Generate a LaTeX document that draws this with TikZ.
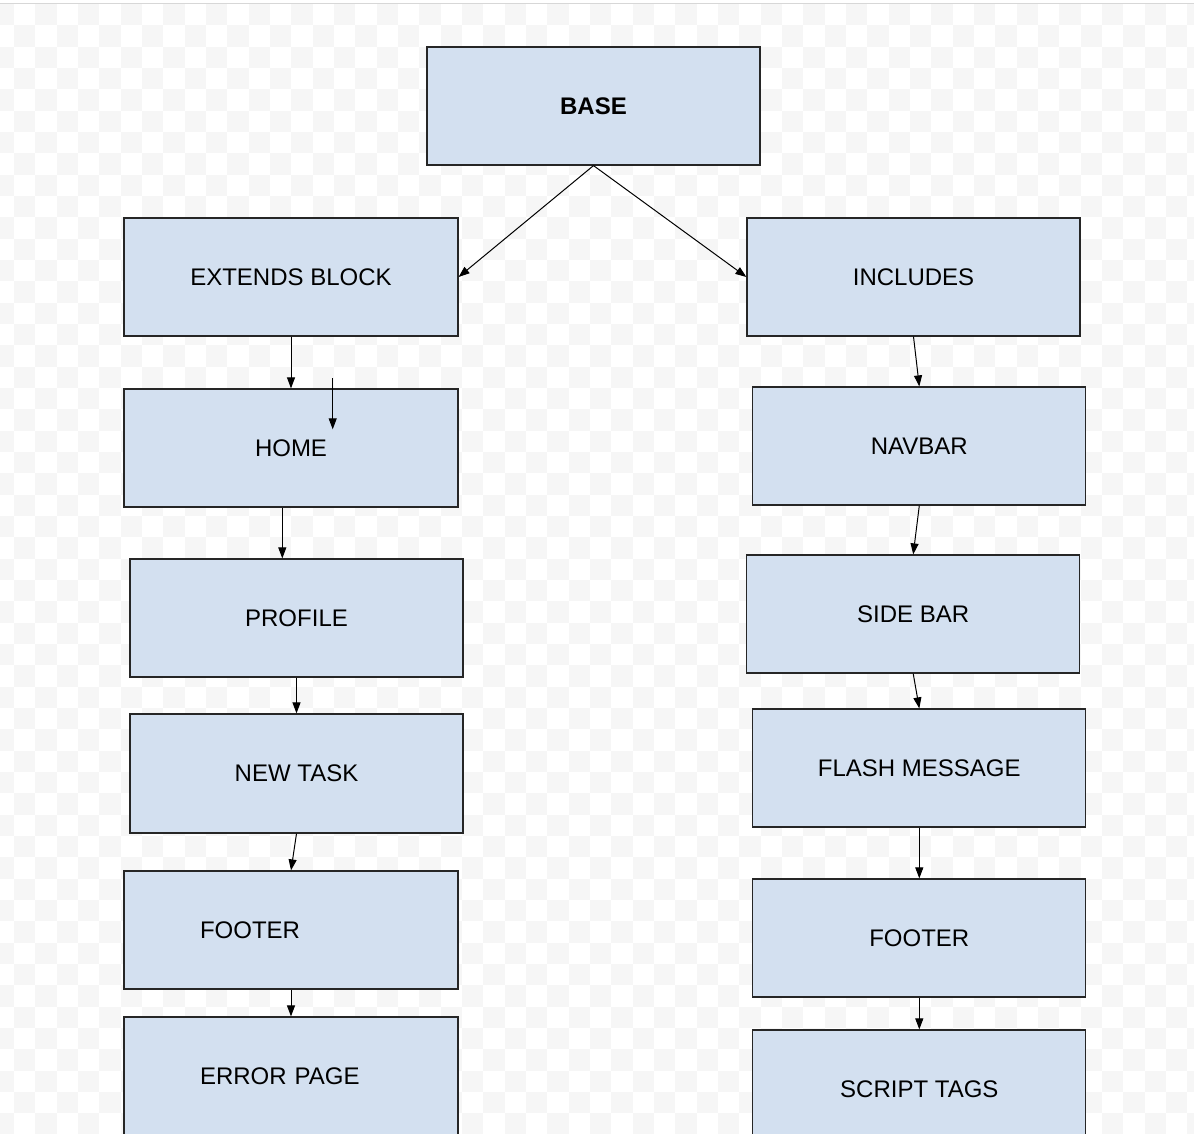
\documentclass[tikz,border=0pt]{standalone}
\usepackage{fontspec}
\setmainfont{Liberation Sans}
\usetikzlibrary{arrows.meta,calc}
\definecolor{boxfill}{RGB}{211,224,240}
\definecolor{checkgray}{RGB}{246,246,246}
\definecolor{topgray}{RGB}{215,215,215}
\tikzset{
  blk/.style={draw=black!85, line width=1.2pt, fill=boxfill, rectangle,
    minimum width=333pt, minimum height=118pt, inner sep=0pt,
    font=\fontsize{24}{28}\selectfont},
  lefttext/.style={text width=182pt, align=left},
  conn/.style={draw=black, line width=1pt, -{Triangle[length=11pt,width=8pt]}},
  checker/.style={fill=checkgray}
}
\begin{document}
\begin{tikzpicture}[x=1pt,y=-1pt]
\useasboundingbox (0,0) rectangle (1194,1134);
\clip (0,0) rectangle (1194,1134);
\fill[white] (0,0) rectangle (1194,1134);
\foreach \r in {0,...,53}{
  \pgfmathsetmacro\yy{4+21.333*\r}
  \pgfmathsetmacro\xo{-7.333+21.333*mod(\r,2)}
  \foreach \c in {0,...,28}{
    \fill[checker] ({\xo+42.667*\c},\yy) rectangle ++(21.333,21.333);
  }
}
\draw[topgray, line width=1.2pt] (0,3.5) -- (1194,3.5);

% left column
\node[blk, font=\fontsize{24}{28}\selectfont\bfseries] (base) at (593.5,106) {BASE};
\node[blk, minimum width=334pt] (ext) at (291,277) {EXTENDS BLOCK};
\node[blk, minimum width=334pt] (home) at (291,448) {HOME};
\node[blk] (prof) at (296.5,618) {PROFILE};
\node[blk, minimum height=119pt] (task) at (296.5,773.5) {NEW TASK};
\node[blk, minimum width=334pt, lefttext] (foot1) at (291,930) {FOOTER};
\node[blk, minimum width=334pt, lefttext] (err) at (291,1076) {ERROR PAGE};

% right column
\node[blk] (inc) at (913.5,277) {INCLUDES};
\node[blk] (nav) at (919.3,446) {NAVBAR};
\node[blk] (side) at (913.2,614) {SIDE BAR};
\node[blk] (flash) at (919.3,768) {FLASH MESSAGE};
\node[blk] (foot2) at (919.3,938) {FOOTER};
\node[blk] (script) at (919.3,1089) {SCRIPT TAGS};

\coordinate (s1) at (332.7,378);
\coordinate (s2) at (332.7,429.3);

% connectors
\draw[conn] (base.south) -- (ext.east);
\draw[conn] (base.south) -- (inc.west);
\draw[conn] (ext.south) -- (home.north);
\draw[conn] (s1) -- (s2);
\draw[conn] ([xshift=-8.7pt]home.south) -- ([xshift=-8.7pt]home.south |- prof.north);
\draw[conn] (prof.south) -- (task.north);
\draw[conn] (task.south) -- (foot1.north);
\draw[conn] (foot1.south) -- (err.north);
\draw[conn] (inc.south) -- (nav.north);
\draw[conn] (nav.south) -- (side.north);
\draw[conn] (side.south) -- (flash.north);
\draw[conn] (flash.south) -- (foot2.north);
\draw[conn] (foot2.south) -- (script.north);
\end{tikzpicture}
\end{document}
